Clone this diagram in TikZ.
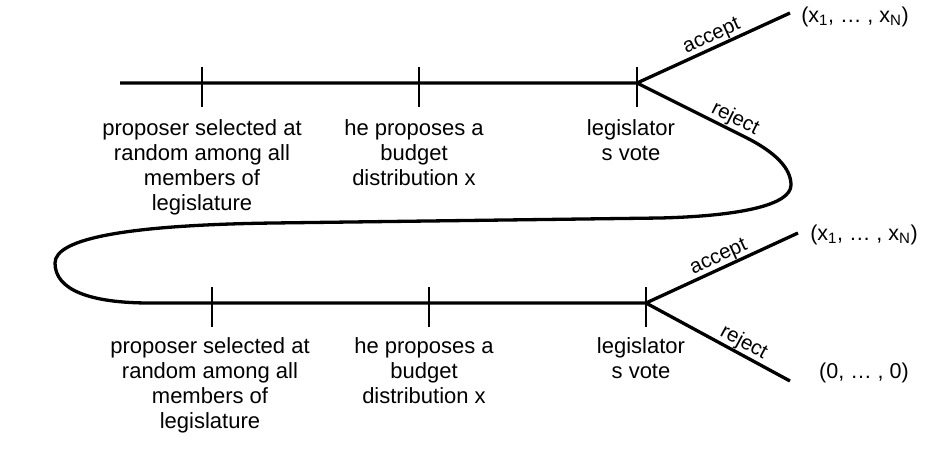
\documentclass[tikz,border=0pt]{standalone}
\usepackage{fontspec}
\setmainfont{Liberation Sans}
\usetikzlibrary{calc}
\begin{document}
\begin{tikzpicture}[x=1pt,y=-1pt,
  mainline/.style={line width=3.3pt, line join=round},
  tickline/.style={line width=1.4pt},
  desc/.style={align=center, inner sep=0pt, anchor=north, font=\fontsize{22}{25}\selectfont},
  branchlbl/.style={sloped, above, inner sep=0.5pt, font=\fontsize{20.5}{23}\selectfont},
  outcome/.style={inner sep=0pt, font=\fontsize{21.5}{25}\selectfont}]
\useasboundingbox (0,0) rectangle (948,448);
% top stage
\coordinate (s) at (120,83);
\coordinate (t1) at (202,83);
\coordinate (t2) at (419,83);
\coordinate (v1) at (637,83);
\coordinate (r1) at (745,137);
\coordinate (a1) at (790,13);
% bottom stage
\coordinate (b1) at (212,303);
\coordinate (b2) at (429,303);
\coordinate (v2) at (646,303);
\coordinate (a2) at (798,233);
\coordinate (r2) at (790,381);
% main path
\draw[mainline] (s) -- (v1) -- node[branchlbl, pos=.86] {reject} (r1)
  .. controls (775,152) and (791,168) .. (791,185)
  .. controls (791,205) and (740,216) .. (660,218)
  -- (273,223)
  .. controls (130,225) and (55,238) .. (55,263)
  .. controls (55,290) and (90,303) .. (150,303)
  -- (v2);
\draw[mainline] (v1) -- node[branchlbl, pos=.52] {accept} (a1);
\draw[mainline] (v2) -- node[branchlbl, pos=.51] {accept} (a2);
\draw[mainline] (v2) -- node[branchlbl, pos=.64] {reject} (r2);
% ticks
\foreach \p in {t1,t2,v1,b1,b2,v2}
  \draw[tickline] ($(\p)+(0,-16)$) -- ($(\p)+(0,24)$);
% descriptions
\node[desc] (d1) at (202,119.5) {proposer selected at\\random among all\\members of\\legislature};
\node[desc] (d2) at (414,119.5) {he proposes a\\budget\\distribution x};
\node[desc] (d3) at (631,119.5) {legislator\\s vote};
\node[desc] (d4) at (210,337.5) {proposer selected at\\random among all\\members of\\legislature};
\node[desc] (d5) at (424,337.5) {he proposes a\\budget\\distribution x};
\node[desc] (d6) at (641,337.5) {legislator\\s vote};
% outcomes
\node[outcome] (o1) at (855,17) {(x\textsubscript{1}, … , x\textsubscript{N})};
\node[outcome] (o2) at (864,235) {(x\textsubscript{1}, … , x\textsubscript{N})};
\node[outcome] (o3) at (864,373) {(0, … , 0)};
\end{tikzpicture}
\end{document}
